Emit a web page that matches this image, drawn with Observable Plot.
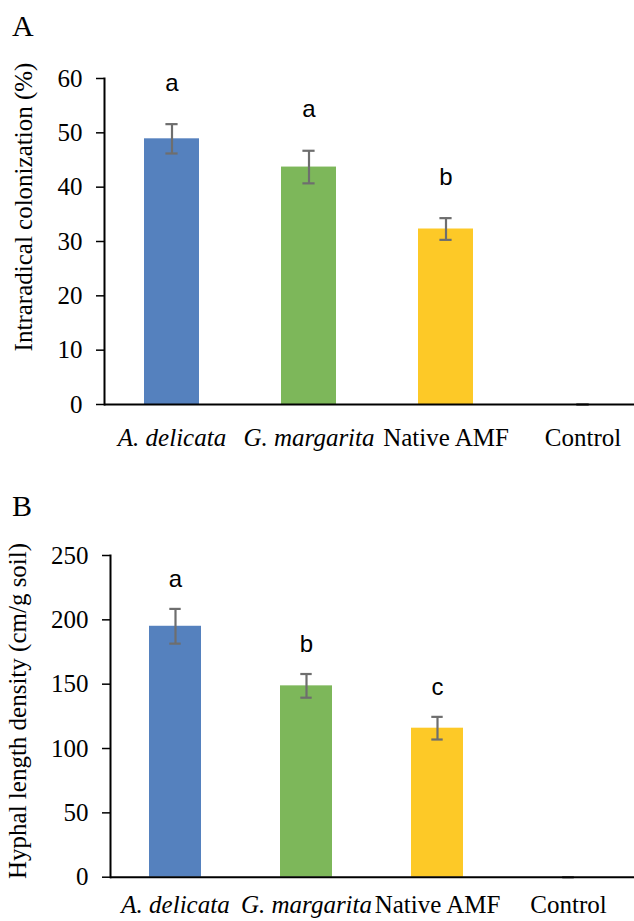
<!DOCTYPE html>
<html>
<head>
<meta charset="utf-8">
<script src="https://cdn.jsdelivr.net/npm/d3@7"></script>
<script src="https://cdn.jsdelivr.net/npm/@observablehq/plot@0.6"></script>
<style>
  html, body { margin: 0; padding: 0; background: #fff; }
  #wrap { position: relative; width: 634px; height: 921px; overflow: hidden; }
  .panel { position: absolute; left: 0; width: 634px; }
  .plabel { position: absolute; left: 12px; font-family: "Liberation Serif", serif; font-size: 30px; line-height: 30px; color: #000; }
</style>
</head>
<body>
<div id="wrap">
  <div class="panel" id="panelA" style="top:0px"></div>
  <div class="panel" id="panelB" style="top:460px"></div>
  <div class="plabel" style="top:11px">A</div>
  <div class="plabel" style="top:491px">B</div>
</div>
<script>
const categories = ["A. delicata", "G. margarita", "Native AMF", "Control"];
const italicCategories = ["A. delicata", "G. margarita"];
const barColors = ["#5581BE", "#7DB75A", "#FDC927", "#A5A5A5"];

const colonization = [48.9, 43.7, 32.3, 0];
const colonizationSE = [2.7, 3.0, 2.0, 0];
const colonizationLetters = ["a", "a", "b", ""];
const colonizationTicks = [0, 10, 20, 30, 40, 50, 60];

const hyphal = [195.0, 148.7, 115.8, 0];
const hyphalSE = [13.5, 9.2, 8.8, 0];
const hyphalLetters = ["a", "b", "c", ""];
const hyphalTicks = [0, 50, 100, 150, 200, 250];

function makeRows(vals, se, letters) {
  return categories.map((c, i) => ({
    cat: c, v: vals[i], lo: vals[i] - se[i], hi: vals[i] + se[i], letter: letters[i]
  }));
}

function panel(opts) {
  const rows = makeRows(opts.vals, opts.se, opts.letters);
  const errColor = "#6E6E6E";
  const svg = Plot.plot({
    width: 634,
    height: opts.height,
    marginTop: opts.marginTop,
    marginBottom: opts.marginBottom,
    marginLeft: opts.marginLeft,
    marginRight: 0,
    style: { fontFamily: "Liberation Serif, serif", fontSize: "25px", color: "#000", background: "#fff", overflow: "visible" },
    x: { type: "band", domain: categories, range: opts.xRange, paddingInner: 0.6, paddingOuter: 0.3 },
    y: { domain: opts.yDomain, ticks: opts.ticks },
    color: { domain: categories, range: barColors },
    marks: [
      Plot.barY(rows, { x: "cat", y: "v", fill: "cat" }),
      Plot.ruleX(rows, { x: "cat", y1: "lo", y2: "hi", stroke: errColor, strokeWidth: 2.2 }),
      Plot.tickY(rows, { x: "cat", y: "lo", stroke: errColor, strokeWidth: 2.2, insetLeft: opts.capInset, insetRight: opts.capInset }),
      Plot.tickY(rows, { x: "cat", y: "hi", stroke: errColor, strokeWidth: 2.2, insetLeft: opts.capInset, insetRight: opts.capInset }),
      Plot.text(rows, { x: "cat", y: "hi", text: "letter", dy: opts.letterDy, lineAnchor: "middle", fontFamily: "Liberation Sans, Arial, sans-serif", fontSize: 24, fill: "#000" }),
      Plot.axisY({ ticks: opts.ticks, tickSize: 8, tickPadding: 14, tickFormat: d => String(d), stroke: "#000", strokeWidth: 1.5, fill: "#000", fontSize: 25, label: null }),
      Plot.axisX({ tickSize: 0, tickPadding: opts.xTickPadding, fill: "#000", fontSize: 25, label: null }),
      Plot.frame({ anchor: "left", stroke: "#000", strokeWidth: 2 }),
      Plot.ruleY([0], { stroke: "#000", strokeWidth: 2 }),
      Plot.text([opts.ylabel], { frameAnchor: "left", rotate: -90, dx: opts.ylabelDx, dy: opts.ylabelDy, fontFamily: "Liberation Serif, serif", fontSize: 25, fill: "#000", textAnchor: "middle", lineAnchor: "middle" })
    ]
  });
  // italicize species names in x tick labels
  d3.select(svg).selectAll('[aria-label="x-axis tick label"] text').each(function() {
    const t = d3.select(this).text();
    if (italicCategories.includes(t)) d3.select(this).attr("font-style", "italic");
  });
  return svg;
}

document.getElementById("panelA").appendChild(panel({
  height: 460, marginTop: 78, marginBottom: 56, marginLeft: 104,
  xRange: [102.5, 650.5], yDomain: [0, 60], ticks: colonizationTicks,
  vals: colonization, se: colonizationSE, letters: colonizationLetters,
  capInset: 21.4, letterDy: -41, xTickPadding: 23.3,
  ylabel: "Intraradical colonization (%)", ylabelDx: -81, ylabelDy: -34.5
}));

document.getElementById("panelB").appendChild(panel({
  height: 461, marginTop: 95, marginBottom: 44.3, marginLeft: 110,
  xRange: [109.3, 634.6], yDomain: [0, 250], ticks: hyphalTicks,
  vals: hyphal, se: hyphalSE, letters: hyphalLetters,
  capInset: 20.3, letterDy: -30, xTickPadding: 18.5,
  ylabel: "Hyphal length density (cm/g soil)", ylabelDx: -93, ylabelDy: -5.4
}));
</script>
</body>
</html>
